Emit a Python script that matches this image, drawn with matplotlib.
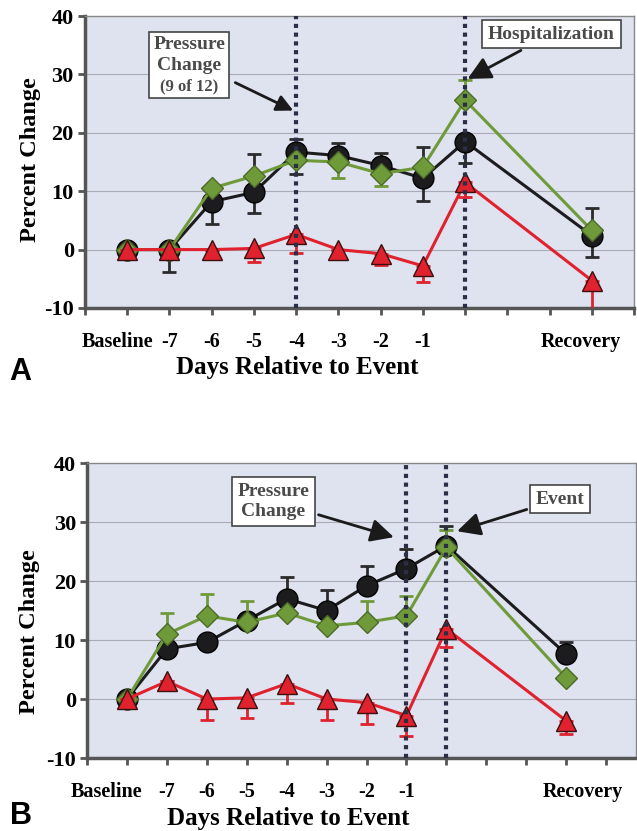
import matplotlib.pyplot as plt
import matplotlib.transforms as mtransforms
from matplotlib.offsetbox import TextArea, VPacker, AnnotationBbox
import numpy as np

# x categories (positions 1..13 on the axis, blank ticks between event and recovery)
tick_labels = ["Baseline", "-7", "-6", "-5", "-4", "-3", "-2", "-1", "", "", "", "Recovery", ""]
x_days = [1, 2, 3, 4, 5, 6, 7, 8, 9, 12]

# Panel A values
a_black = [0, 0, 8.2, 9.8, 16.7, 16.1, 14.4, 12.2, 18.5, 2.4]
a_black_lo = [0, 3.9, 3.8, 3.5, 3.7, 0, 0, 3.8, 3.6, 3.6]
a_black_hi = [0, 0, 0, 6.5, 2.3, 2.1, 2.1, 5.4, 0, 4.8]
a_green = [0, 0, 10.5, 12.6, 15.3, 15.0, 13.0, 14.1, 25.6, 3.3]
a_green_lo = [0, 0, 0, 0, 0, 2.8, 2.1, 0, 0, 0]
a_green_hi = [0, 0, 0, 0, 0, 0, 0, 0, 3.4, 0]
a_red = [0, 0, 0, 0.2, 2.6, 0, -0.7, -2.8, 11.5, -5.3]
a_red_lo = [0, 0, 0, 2.4, 3.1, 0, 2.0, 2.8, 2.5, 6.0]

# Panel B values
b_black = [0, 8.5, 9.6, 13.3, 17.0, 15.0, 19.2, 22.1, 26.0, 7.6]
b_black_hi = [0, 0, 0, 0, 3.6, 3.4, 3.4, 3.4, 3.4, 2.0]
b_green = [0, 11.0, 14.1, 13.0, 14.6, 12.4, 13.0, 14.1, 25.7, 3.6]
b_green_hi = [0, 3.5, 3.7, 3.7, 0, 0, 3.7, 3.4, 2.9, 0]
b_red = [0, 3.0, 0, 0.2, 2.6, 0, -0.6, -2.8, 11.9, -3.7]
b_red_lo = [0, 0, 3.6, 3.4, 3.2, 3.6, 3.6, 3.4, 3.0, 2.3]

bg = "#dfe2ef"
black_c = "#1c1c1e"
green_c = "#6f9a3a"
red_c = "#e0222e"
serif = "Liberation Serif"

fig = plt.figure(figsize=(6.37, 8.31), dpi=100)


def draw_panel(ax, xmax, black, blo, bhi, green, glo, ghi, red, rlo, vlines):
    ax.set_facecolor(bg)
    ax.set_xlim(0, xmax)
    ax.set_ylim(-10, 40)
    for yy in [0, 10, 20, 30]:
        ax.axhline(yy, color="#a9abb5", lw=0.8, zorder=1)
    for vx in vlines:
        ax.axvline(vx, color="#2a2f45", lw=3, ls=(0, (1, 1.1)), zorder=6)

    ax.errorbar(x_days, black, yerr=[blo, bhi], color=black_c, lw=2.2, marker="o",
                ms=15, mfc=black_c, mec="#000000", ecolor="#2a2a2a", elinewidth=2,
                capsize=5, capthick=2, zorder=3)
    ax.errorbar(x_days, green, yerr=[glo, ghi], color=green_c, lw=2.2, marker="D",
                ms=11, mfc=green_c, mec="#4d6b28", ecolor=green_c, elinewidth=2,
                capsize=5, capthick=2, zorder=4)
    ax.errorbar(x_days, red, yerr=[rlo, [0] * len(red)], color=red_c, lw=2.2, marker="^",
                ms=15, mfc=red_c, mec="#3a1010", ecolor=red_c, elinewidth=2,
                capsize=5, capthick=2, zorder=5)

    ax.set_yticks([-10, 0, 10, 20, 30, 40])
    ax.set_yticklabels(["-10", "0", "10", "20", "30", "40"], fontfamily=serif,
                       fontweight="bold", fontsize=16)
    ax.set_xticks(range(0, 14))
    ax.set_xticklabels([""] + tick_labels, fontfamily=serif, fontweight="bold", fontsize=14.5)
    ax.tick_params(axis="x", length=5, width=2, color="#555555", pad=12)
    ax.tick_params(axis="y", length=5, width=2, color="#555555", pad=3)
    for s in ["left", "bottom"]:
        ax.spines[s].set_linewidth(2.5)
        ax.spines[s].set_color("#555555")
    for s in ["top", "right"]:
        ax.spines[s].set_linewidth(1)
        ax.spines[s].set_color("#888888")
    ax.set_ylabel("Percent Change", fontfamily=serif, fontweight="bold", fontsize=17.5)
    ax.set_xlabel("Days Relative to Event", fontfamily=serif, fontweight="bold", fontsize=18)


def nudge_label(ax, idx, dx_px):
    lbl = ax.get_xticklabels()[idx]
    lbl.set_transform(lbl.get_transform()
                      + mtransforms.ScaledTranslation(dx_px / 100, 0, fig.dpi_scale_trans))


boxprops = dict(boxstyle="square,pad=0.3", fc="white", ec="#444444", lw=1.2)
arrowprops = dict(arrowstyle="-|>,head_length=1.0,head_width=0.5", color="#1a1a1a", lw=2)
box_text = dict(fontfamily=serif, fontweight="bold", fontsize=14, color="#4a4a4a",
                ha="center", va="center", zorder=8)
big_tp = dict(fontfamily=serif, fontweight="bold", fontsize=14, color="#4a4a4a")
small_tp = dict(fontfamily=serif, fontweight="bold", fontsize=12, color="#4a4a4a")

# Panel A
ax1 = fig.add_axes([0.1334, 0.6294, 0.862, 0.3513])
draw_panel(ax1, 13, a_black, a_black_lo, a_black_hi, a_green, a_green_lo, a_green_hi,
           a_red, a_red_lo, [5, 9])
nudge_label(ax1, 1, -10)
nudge_label(ax1, 12, -11)
ax1.xaxis.set_label_coords(0.386, -0.165)
ax1.yaxis.set_label_coords(-0.08, 0.507)

# three-line box with a smaller last line
pc_box = VPacker(children=[TextArea("Pressure", textprops=big_tp),
                           TextArea("Change", textprops=big_tp),
                           TextArea("(9 of 12)", textprops=small_tp)],
                 align="center", pad=0, sep=3)
ab = AnnotationBbox(pc_box, (2.47, 31.6), xycoords="data", frameon=True, pad=0.35,
                    bboxprops=dict(boxstyle="square", fc="white", ec="#444444", lw=1.2),
                    zorder=8)
ax1.add_artist(ab)
ax1.annotate("", xy=(4.99, 23.6), xytext=(3.5, 28.8), arrowprops=arrowprops, zorder=8)
ax1.annotate("Hospitalization", xy=(9.0, 29.0), xytext=(11.04, 36.9),
             bbox=boxprops, arrowprops=arrowprops, **box_text)
fig.text(0.015, 0.552, "A", fontfamily="Liberation Sans", fontweight="bold",
         fontsize=22, va="center")

# Panel B
ax2 = fig.add_axes([0.1366, 0.0878, 0.862, 0.355])
draw_panel(ax2, 13.75, b_black, [0] * 10, b_black_hi, b_green, [0] * 10, b_green_hi,
           b_red, b_red_lo, [8, 9])
nudge_label(ax2, 1, -20)
nudge_label(ax2, 12, 17)
ax2.xaxis.set_label_coords(0.366, -0.165)
ax2.yaxis.set_label_coords(-0.085, 0.43)
ax2.annotate("Pressure\nChange", xy=(7.75, 27.3), xytext=(4.67, 33.5), linespacing=1.25,
             bbox=boxprops, arrowprops=arrowprops, **box_text)
ax2.annotate("Event", xy=(9.2, 28.3), xytext=(11.85, 33.9),
             bbox=boxprops, arrowprops=arrowprops, **box_text)
fig.text(0.015, 0.018, "B", fontfamily="Liberation Sans", fontweight="bold",
         fontsize=22, va="center")

fig.savefig("out.png", dpi=100)
